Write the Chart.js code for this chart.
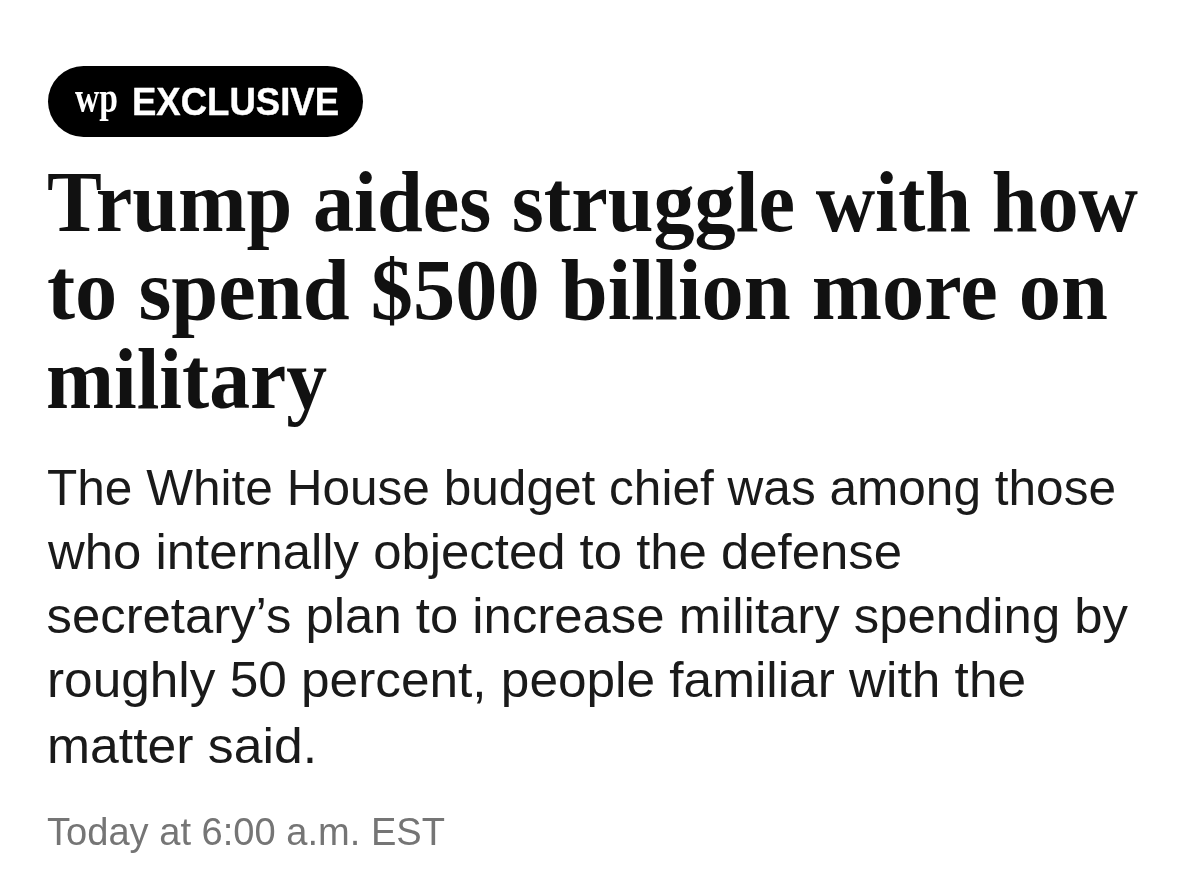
<!DOCTYPE html>
<html><head><meta charset="utf-8">
<style>html,body{margin:0;padding:0;background:#fff}#wrap{width:1200px;height:879px;position:relative}canvas{display:block}</style>
<script src="https://cdn.jsdelivr.net/npm/chart.js@4"></script>
</head><body><div id="wrap"><canvas id="c" width="1200" height="879"></canvas></div>
<script>
const badgeMark = "wp";
const badgeText = "EXCLUSIVE";
const headlineLines = ["Trump aides struggle with how", "to spend $500 billion more on", "military"];
const deckLines = ["The White House budget chief was among those", "who internally objected to the defense", "secretary\u2019s plan to increase military spending by", "roughly 50 percent, people familiar with the", "matter said."];
const timestamp = "Today at 6:00 a.m. EST";

const headSpec = [[47,1138,231],[47,1108,319],[46,327,408]];
const deckSpec = [[47,1116,505],[48,902,569],[46.5,1128,633],[47,1026,697],[47,317,763]];

function fit(ctx, text, x0, x1, y, font, color, bold){
  ctx.save();
  ctx.font = font; ctx.fillStyle = color; ctx.textBaseline = "alphabetic"; ctx.textAlign = "left";
  const s = (x1 - x0) / ctx.measureText(text).width;
  ctx.translate(x0, y);
  ctx.scale(s, 1);
  ctx.fillText(text, 0, 0);
  if (bold) { ctx.strokeStyle = color; ctx.lineWidth = bold; ctx.lineJoin = "round"; ctx.strokeText(text, 0, 0); }
  ctx.restore();
}
const textPlugin = {
  id: "article",
  afterDraw(chart){
    const ctx = chart.ctx;
    ctx.save();
    ctx.fillStyle = "#000";
    ctx.beginPath(); ctx.roundRect(48, 66, 315, 71, 35.5); ctx.fill();
    ctx.restore();
    fit(ctx, badgeMark, 75, 118, 112, "bold 44px 'Liberation Serif'", "#fff");
    fit(ctx, badgeText, 132, 339, 115, "bold 38px 'Liberation Sans'", "#fff", 0.4);
    headlineLines.forEach((t,i)=>fit(ctx, t, headSpec[i][0], headSpec[i][1], headSpec[i][2], "bold 86px 'Liberation Serif'", "#111"));
    deckLines.forEach((t,i)=>fit(ctx, t, deckSpec[i][0], deckSpec[i][1], deckSpec[i][2], "50px 'Liberation Sans'", "#1a1a1a"));
    fit(ctx, timestamp, 47, 445, 845, "38px 'Liberation Sans'", "#757575");
  }
};
new Chart(document.getElementById("c"), {
  type: "bar",
  data: { labels: [], datasets: [] },
  options: {
    responsive: false, animation: false, devicePixelRatio: 1,
    plugins: { legend: {display:false}, tooltip: {enabled:false} },
    scales: { x: {display:false}, y: {display:false} }
  },
  plugins: [textPlugin]
});
</script></body></html>
